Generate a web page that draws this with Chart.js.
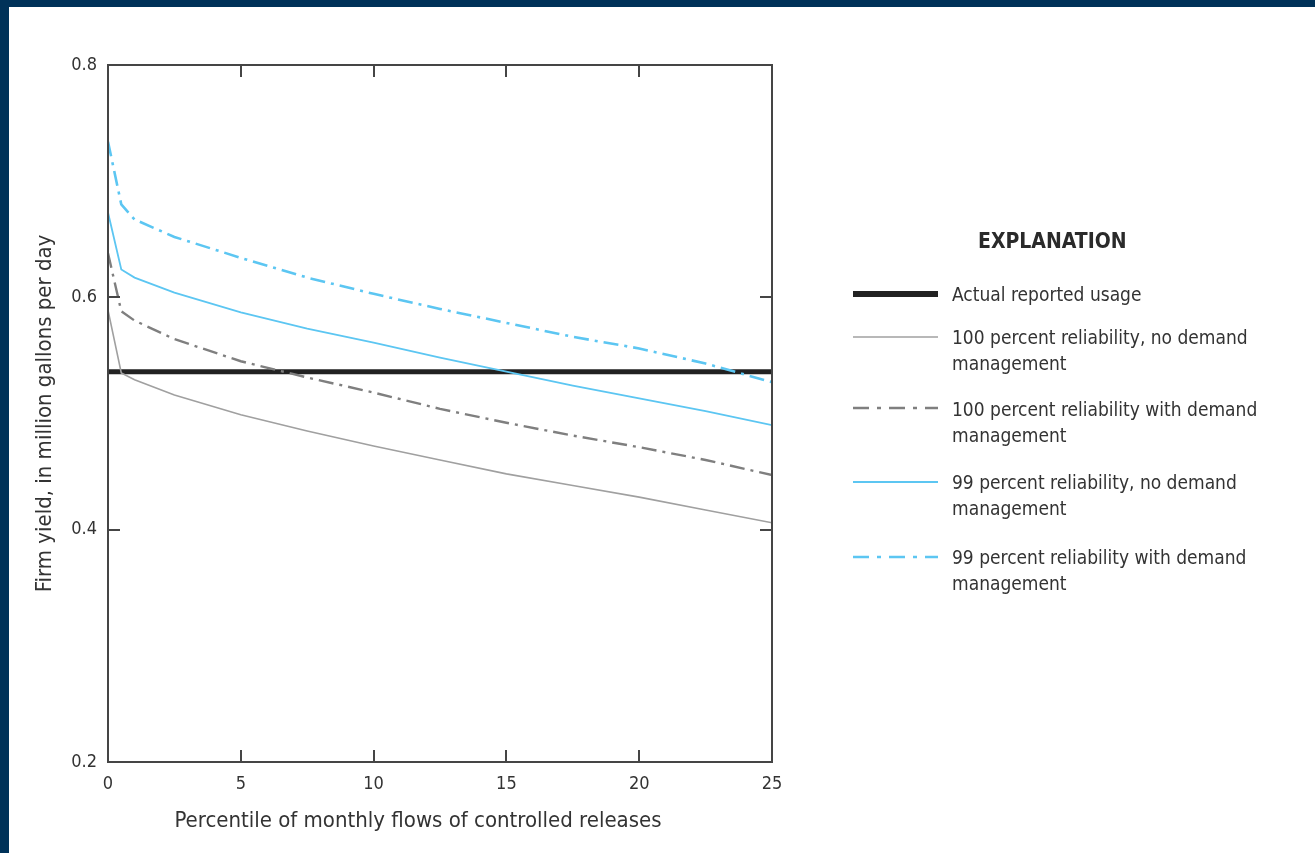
<!DOCTYPE html>
<html><head><meta charset="utf-8">
<script src="https://cdn.jsdelivr.net/npm/chart.js@4.4.0/dist/chart.umd.min.js"></script>
<style>
html,body{margin:0;padding:0;background:#fff;}
body{width:1315px;height:853px;position:relative;overflow:hidden;font-family:"Liberation Sans Narrow","DejaVu Sans Condensed","Arial Narrow",sans-serif;color:#333;}
#frameTop{position:absolute;left:0;top:0;width:1315px;height:7px;background:#003259;z-index:3;}
#frameLeft{position:absolute;left:0;top:0;width:9px;height:853px;background:#003259;z-index:3;}
#wrap{position:absolute;left:0;top:0;width:1315px;height:853px;}
#xtitle{position:absolute;left:0;width:836px;top:807px;text-align:center;font-size:22px;line-height:26px;white-space:nowrap;}
#legend{position:absolute;left:0;top:0;}
.lg-title{position:absolute;left:978px;top:227px;font-weight:bold;font-size:21px;line-height:28px;color:#2a2a2a;white-space:nowrap;}
.lg-item{position:absolute;left:952px;font-size:19px;line-height:26px;white-space:nowrap;}
.lg-line{position:absolute;left:853px;width:85px;height:10px;}
</style>
</head><body>
<div id="wrap"><canvas id="c" width="1315" height="853"></canvas></div>
<div id="frameTop"></div><div id="frameLeft"></div>
<div id="xtitle"></div>
<div id="legend"></div>
<script>
// ---- data ----
const percentiles = [0, 0.5, 1, 2.5, 5, 7.5, 10, 12.5, 15, 17.5, 20, 22.5, 25];
const rel100NoDemand   = [0.589, 0.535, 0.529, 0.516, 0.499, 0.485, 0.472, 0.460, 0.448, 0.438, 0.428, 0.417, 0.406];
const rel100WithDemand = [0.638, 0.588, 0.580, 0.564, 0.545, 0.531, 0.518, 0.504, 0.492, 0.481, 0.471, 0.460, 0.447];
const rel99NoDemand    = [0.673, 0.624, 0.617, 0.604, 0.587, 0.573, 0.561, 0.548, 0.536, 0.524, 0.513, 0.502, 0.490];
const rel99WithDemand  = [0.734, 0.680, 0.667, 0.652, 0.634, 0.617, 0.603, 0.590, 0.578, 0.566, 0.556, 0.543, 0.527];
const actualUsageX = [0, 25];
const actualUsageY = [0.536, 0.536];
const xTickValues = [0, 5, 10, 15, 20, 25];
const yTickValues = [0.2, 0.4, 0.6, 0.8];
const seriesNames = [
  "Actual reported usage",
  "100 percent reliability, no demand management",
  "100 percent reliability with demand management",
  "99 percent reliability, no demand management",
  "99 percent reliability with demand management"
];
const legendTitle = "EXPLANATION";
const xAxisTitle = "Percentile of monthly flows of controlled releases";
const yAxisTitle = "Firm yield, in million gallons per day";

const FONT = '"Liberation Sans Narrow","DejaVu Sans Condensed","Arial Narrow",sans-serif';
const BLUE = '#5cc6f2';
const toXY = (xs, ys) => xs.map((x, i) => ({x, y: ys[i]}));

const styles = [
  {color:'#222222', width:5, dash:[]},
  {color:'#a0a0a0', width:1.6, dash:[]},
  {color:'#7f7f7f', width:2.4, dash:[15,6,3,6]},
  {color:BLUE, width:1.8, dash:[]},
  {color:BLUE, width:2.6, dash:[15,6,3,6]}
];
const seriesData = [
  toXY(actualUsageX, actualUsageY),
  toXY(percentiles, rel100NoDemand),
  toXY(percentiles, rel100WithDemand),
  toXY(percentiles, rel99NoDemand),
  toXY(percentiles, rel99WithDemand)
];
const order = [1,2,3,4,0];
const datasets = order.map(i => ({
  label: seriesNames[i], data: seriesData[i],
  borderColor: styles[i].color, borderWidth: styles[i].width, borderDash: styles[i].dash,
  pointRadius: 0, fill: false, tension: 0, borderCapStyle: 'butt'
}));

const framePlugin = {
  id: 'frame',
  afterDraw(chart) {
    const {ctx, chartArea: a, scales: {x, y}} = chart;
    ctx.save();
    ctx.strokeStyle = '#454545';
    ctx.lineWidth = 2;
    ctx.setLineDash([]);
    ctx.strokeRect(a.left, a.top, a.right - a.left, a.bottom - a.top);
    const L = 12;
    ctx.beginPath();
    xTickValues.forEach(v => {
      if (v === 0 || v === 25) return;
      const px = Math.round(x.getPixelForValue(v));
      ctx.moveTo(px, a.top); ctx.lineTo(px, a.top + L);
      ctx.moveTo(px, a.bottom); ctx.lineTo(px, a.bottom - L);
    });
    yTickValues.forEach(v => {
      if (v === 0.2 || v === 0.8) return;
      const py = Math.round(y.getPixelForValue(v));
      ctx.moveTo(a.left, py); ctx.lineTo(a.left + L, py);
      ctx.moveTo(a.right, py); ctx.lineTo(a.right - L, py);
    });
    ctx.stroke();
    ctx.restore();
  }
};

new Chart(document.getElementById('c'), {
  type: 'line',
  data: {datasets},
  plugins: [framePlugin],
  options: {
    responsive: false, animation: false, devicePixelRatio: 1,
    layout: {padding: {left: 0, top: 65, right: 543, bottom: 0}},
    plugins: {legend: {display: false}, tooltip: {enabled: false}},
    scales: {
      x: {
        type: 'linear', min: 0, max: 25,
        afterBuildTicks: s => { s.ticks = xTickValues.map(v => ({value: v})); },
        afterFit: s => { s.height = 91; },
        grid: {display: false, drawTicks: false, tickLength: 0},
        border: {display: false},
        ticks: {padding: 12, color: '#333', maxRotation: 0, autoSkip: false,
                font: {family: FONT, size: 18}, callback: v => String(v)},
        title: {display: false}
      },
      y: {
        type: 'linear', min: 0.2, max: 0.8,
        afterBuildTicks: s => { s.ticks = yTickValues.map(v => ({value: v})); },
        afterFit: s => { s.width = 108; },
        grid: {display: false, drawTicks: false, tickLength: 0},
        border: {display: false},
        ticks: {padding: 11, color: '#333', autoSkip: false,
                font: {family: FONT, size: 18}, callback: v => Number(v).toFixed(1)},
        title: {display: true, text: yAxisTitle, color: '#333',
                font: {family: FONT, size: 22}, padding: {top: 32, bottom: 0}}
      }
    }
  }
});

document.getElementById('xtitle').textContent = xAxisTitle;

// legend
const lg = document.getElementById('legend');
const t = document.createElement('div'); t.className = 'lg-title'; t.textContent = legendTitle; lg.appendChild(t);
const lineY = [294, 337, 408, 482, 557];
const textTop = [281, 324, 396, 469, 544];
const textLines = [
  ["Actual reported usage"],
  ["100 percent reliability, no demand", "management"],
  ["100 percent reliability with demand", "management"],
  ["99 percent reliability, no demand", "management"],
  ["99 percent reliability with demand", "management"]
];
for (let i = 0; i < 5; i++) {
  const c = document.createElement('canvas');
  c.className = 'lg-line'; c.width = 85; c.height = 10;
  c.style.top = (lineY[i] - 5) + 'px';
  const g = c.getContext('2d');
  g.strokeStyle = styles[i].color; g.lineWidth = i === 0 ? 6 : styles[i].width;
  g.setLineDash(styles[i].dash.length ? [16,8,4,8] : []);
  g.beginPath(); g.moveTo(0, 5); g.lineTo(85, 5); g.stroke();
  lg.appendChild(c);
  const d = document.createElement('div'); d.className = 'lg-item';
  d.style.top = textTop[i] + 'px';
  d.innerHTML = textLines[i].map(s => s.replace(/&/g,'&amp;')).join('<br>');
  d.title = seriesNames[i];
  lg.appendChild(d);
}
</script>
</body></html>
